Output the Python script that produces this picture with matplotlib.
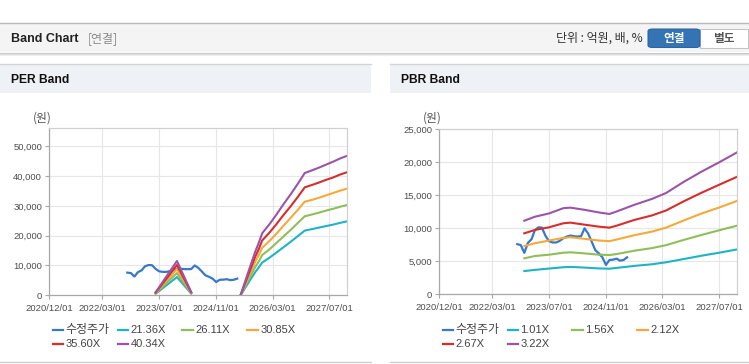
import matplotlib
matplotlib.use("Agg")
import matplotlib.pyplot as plt
from matplotlib.patches import Rectangle, FancyBboxPatch
from matplotlib.lines import Line2D
import pandas as pd
import numpy as np

# ---------------- data ----------------
price_dates = pd.date_range("2022-10-01", "2025-05-01", freq="MS")
price_values = [7600, 7450, 6280, 7800, 8350, 9700, 10150, 10100, 8850, 8050,
                7850, 7850, 8100, 8500, 8750, 8900, 8800, 8750, 8800, 10000,
                9200, 8000, 6700, 6200, 5600, 4450, 5200, 5250, 5400, 5100,
                5200, 5600]

per_band_dates = ["2023-06-01", "2023-12-01", "2024-04-01", "2024-05-01",
                  "2025-06-01", "2025-08-01", "2025-10-01", "2025-11-01",
                  "2025-12-01", "2026-02-01", "2026-04-01", "2026-06-01",
                  "2026-08-01", "2026-10-01", "2026-12-01", "2027-02-01",
                  "2027-04-01", "2027-06-01", "2027-08-01", "2027-10-01",
                  "2027-12-01"]
per_labels = ["21.36X", "26.11X", "30.85X", "35.60X", "40.34X"]
per_21 = [530, 6100, 580, None, 160, 4000, 7700, 9300, 11000, 12600, 14300,
          16100, 17900, 19800, 21700, 22200, 22700, 23200, 23700, 24300, 24800]
per_26 = [650, 7450, 710, None, 190, 4900, 9400, 11300, 13500, 15400, 17500,
          19700, 21900, 24200, 26500, 27100, 27700, 28400, 29000, 29700, 30300]
per_30 = [760, 8800, 840, None, 230, 5700, 11100, 13400, 15900, 18200, 20600,
          23300, 25900, 28600, 31400, 32000, 32700, 33500, 34300, 35100, 35800]
per_35 = [880, 10150, 970, None, 260, 6600, 12800, 15400, 18400, 21000, 23800,
          26900, 29800, 32900, 36200, 37000, 37800, 38700, 39500, 40500, 41300]
per_40 = [1000, 11500, 1100, None, 300, 7500, 14500, 17500, 20800, 23800, 27000,
          30500, 33800, 37300, 41000, 41900, 42800, 43800, 44800, 45900, 46800]

pbr_band_dates = ["2022-12-01", "2023-03-01", "2023-07-01", "2023-11-01",
                  "2024-01-01", "2024-05-01", "2024-09-01", "2024-12-01",
                  "2025-02-01", "2025-07-01", "2025-12-01", "2026-04-01",
                  "2026-09-01", "2027-02-01", "2027-07-01", "2027-12-01"]
pbr_labels = ["1.01X", "1.56X", "2.12X", "2.67X", "3.22X"]
pbr_101 = [3520, 3700, 3900, 4100, 4150, 4050, 3920, 3880, 4000, 4300, 4550,
           4850, 5350, 5850, 6300, 6800]
pbr_156 = [5450, 5800, 6000, 6300, 6360, 6200, 6000, 5950, 6100, 6600, 7000,
           7450, 8250, 9000, 9700, 10400]
pbr_212 = [7320, 7730, 8150, 8550, 8650, 8400, 8150, 8050, 8300, 8950, 9500,
           10100, 11200, 12250, 13150, 14150]
pbr_267 = [9240, 9750, 10150, 10760, 10860, 10550, 10250, 10100, 10400, 11260,
           11950, 12700, 14100, 15400, 16600, 17800]
pbr_322 = [11150, 11750, 12250, 13050, 13130, 12800, 12400, 12170, 12550, 13550,
           14450, 15350, 17050, 18600, 20000, 21500]

x_tick_dates = ["2020-12-01", "2022-03-01", "2023-07-01", "2024-11-01",
                "2026-03-01", "2027-07-01"]
x_range = ["2020-12-01", "2027-12-01"]
price_label = "수정주가"

# ---------------- style ----------------
W, H = 749, 364
fig = plt.figure(figsize=(W / 100, H / 100), dpi=100)
fig.patch.set_facecolor("white")
SANS = ["Liberation Sans", "Noto Sans CJK KR"]
KR = ["Noto Sans CJK KR", "Liberation Sans"]

C_PRICE = "#3878c8"
C_BANDS = ["#1fb3c3", "#8fbe5b", "#f5a93a", "#d62d2d", "#9a55a8"]


def fx(x):
    return x / W


def fy(y):
    return 1 - y / H


def rect(x0, y0, x1, y1, **kw):
    fig.patches.append(Rectangle((fx(x0), fy(y1)), fx(x1) - fx(x0), fy(y0) - fy(y1),
                                 transform=fig.transFigure, **kw))


def hline(x0, x1, y, color, lw=0.75):
    fig.add_artist(Line2D([fx(x0), fx(x1)], [fy(y), fy(y)], transform=fig.transFigure,
                          color=color, lw=lw))


# top header bar
rect(0, 23, W, 52, facecolor="#f4f4f4", edgecolor="none")
hline(0, W, 22.5, "#b8b8b8", 1.0)
hline(0, W, 52.5, "#c8c8c8", 0.75)
hline(0, W, 53.5, "#dedede", 0.75)
hline(0, W, 54.5, "#eeeeee", 0.75)
fig.text(fx(11), fy(38.5), "Band Chart", family=SANS, weight="bold", fontsize=9.0,
         color="#222222", va="center", ha="left")
fig.text(fx(88), fy(38.5), "[연결]", family=KR, fontsize=8.6, color="#8a8a8a",
         va="center", ha="left")
fig.text(fx(643), fy(38.5), "단위 : 억원, 배, %", family=KR, fontsize=8.6,
         color="#333333", va="center", ha="right")
fig.patches.append(FancyBboxPatch((fx(700), fy(47.5)), fx(748) - fx(700), fy(29) - fy(47.5),
                                  boxstyle="square,pad=0", transform=fig.transFigure,
                                  facecolor="white", edgecolor="#c4c4c4", lw=0.75))
fig.patches.append(FancyBboxPatch((fx(648), fy(47.5)), fx(700) - fx(648), fy(29) - fy(47.5),
                                  boxstyle="round,pad=0,rounding_size=0.006",
                                  transform=fig.transFigure,
                                  facecolor="#3574b4", edgecolor="#2c64a0", lw=0.75))
fig.text(fx(674), fy(38.5), "연결", family=KR, weight="bold", fontsize=8.4,
         color="white", va="center", ha="center")
fig.text(fx(724), fy(38.5), "별도", family=KR, weight="bold", fontsize=8.4,
         color="#555555", va="center", ha="center")

# panels
panels = [(0, 370.7, "PER Band"), (390, W, "PBR Band")]
for x0, x1, title in panels:
    rect(x0, 64, x1, 93, facecolor="#eef1f6", edgecolor="none")
    hline(x0, x1, 64, "#d4d4d4", 1.0)
    hline(x0, x1, 362, "#d0d0d0", 1.0)
    fig.text(fx(x0 + 11), fy(80), title, family=SANS, weight="bold", fontsize=8.7,
             color="#111111", va="center", ha="left")

xlim = pd.to_datetime(x_range)
xticks = pd.to_datetime(x_tick_dates)


def style_axes(ax, ymax, ystep):
    ax.set_xlim(xlim[0], xlim[1])
    ax.set_ylim(0, ymax)
    ax.set_xticks(xticks)
    ax.set_xticklabels([d.strftime("%Y/%m/%d") for d in xticks])
    yt = np.arange(0, ymax + 1, ystep)
    ax.set_yticks(yt)
    ax.set_yticklabels([f"{int(v):,}" for v in yt])
    ax.grid(True, color="#e6e6e6", lw=0.8)
    ax.set_axisbelow(True)
    for s in ["left", "bottom"]:
        ax.spines[s].set_color("#a8a8a8")
    for s in ["top", "right"]:
        ax.spines[s].set_color("#d0d0d0")
    for s in ax.spines.values():
        s.set_linewidth(0.9)
    ax.tick_params(axis="both", length=3, width=0.8, color="#a8a8a8",
                   labelsize=6.8, labelcolor="#4d4d4d", pad=2.2)
    ax.tick_params(axis="x", pad=3.2)
    for lab in ax.get_xticklabels() + ax.get_yticklabels():
        lab.set_family(SANS)


def legend(x0, labels):
    items = [(price_label, C_PRICE)] + list(zip(labels, C_BANDS))
    for i, (lab, col) in enumerate(items):
        r, c = divmod(i, 4)
        xx = x0 + c * 64.8
        yy = 330.0 + r * 14.0
        fig.add_artist(Line2D([fx(xx), fx(xx + 10.5)], [fy(yy), fy(yy)],
                              transform=fig.transFigure, color=col, lw=1.6))
        size = 8.6 if i == 0 else 8.0
        fig.text(fx(xx + 13.0), fy(yy + 0.3), lab, family=SANS, fontsize=size,
                 color="#444444", va="center", ha="left")


# PER chart
ax1 = fig.add_axes([fx(49.3), fy(295.3), (347.3 - 49.3) / W, (295.3 - 128.3) / H])
ax1.plot(price_dates, price_values, color=C_PRICE, lw=1.6)
pd_dates = pd.to_datetime(per_band_dates)
for vals, col in zip([per_21, per_26, per_30, per_35, per_40], C_BANDS):
    ax1.plot(pd_dates, np.array(vals, dtype=float), color=col, lw=1.5)
style_axes(ax1, 56000, 10000)
fig.text(fx(33), fy(118), "(원)", family=KR, fontsize=8.5, color="#555555",
         va="center", ha="left")
legend(52.7, per_labels)

# PBR chart
ax2 = fig.add_axes([fx(439.3), fy(294.3), (737 - 439.3) / W, (294.3 - 129.3) / H])
ax2.plot(price_dates, price_values, color=C_PRICE, lw=1.6)
pb_dates = pd.to_datetime(pbr_band_dates)
for vals, col in zip([pbr_101, pbr_156, pbr_212, pbr_267, pbr_322], C_BANDS):
    ax2.plot(pb_dates, np.array(vals, dtype=float), color=col, lw=1.5)
style_axes(ax2, 25000, 5000)
fig.text(fx(423), fy(118), "(원)", family=KR, fontsize=8.5, color="#555555",
         va="center", ha="left")
legend(442.7, pbr_labels)

fig.savefig("out.png", dpi=100, facecolor="white")
